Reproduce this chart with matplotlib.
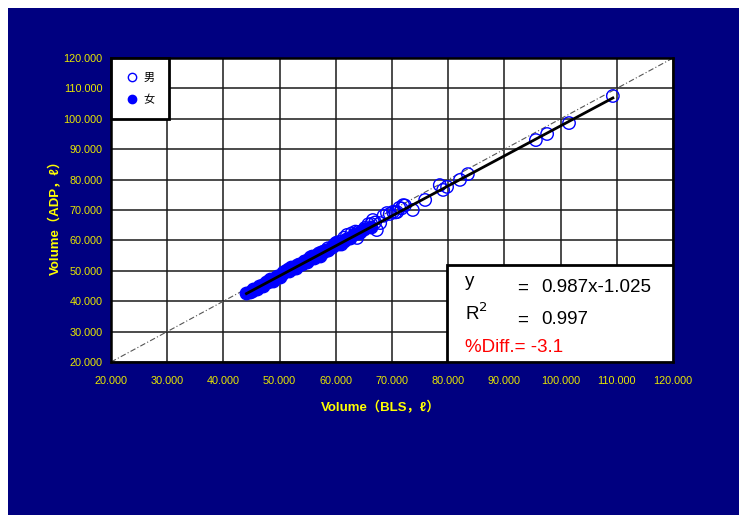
import matplotlib
matplotlib.use("Agg")
import matplotlib.pyplot as plt
from matplotlib.patches import Rectangle
from matplotlib.lines import Line2D
import numpy as np

# Body volume: BLS (x) vs ADP (y), litres
female_bls = [44.1, 44.8, 45.3, 45.9, 46.4, 47.0, 47.5, 47.9, 48.3, 48.8, 49.2, 49.6,
              50.0, 50.4, 50.9, 51.3, 51.7, 52.1, 52.6, 53.0, 53.5, 54.0, 54.4, 54.9,
              55.3, 55.8, 56.2, 56.7, 57.1, 57.6, 58.2, 58.7, 59.3, 59.9, 60.4, 61.0,
              61.8, 62.5, 63.3, 64.1, 65.0, 66.2, 45.0, 46.8, 48.0, 49.0, 50.6, 51.5,
              52.3, 53.8, 55.0, 56.0, 57.3, 58.5, 60.0, 61.4]
female_adp = [42.7, 42.9, 44.1, 44.1, 45.1, 45.0, 46.4, 46.3, 47.2, 46.8, 47.7, 48.4,
              47.9, 49.0, 50.0, 50.1, 49.8, 51.3, 50.9, 50.8, 52.2, 52.2, 53.3, 52.9,
              53.9, 54.8, 54.2, 55.3, 54.9, 56.0, 56.9, 56.8, 57.9, 59.0, 58.8, 58.9,
              60.6, 60.8, 62.2, 62.5, 63.6, 64.5, 43.5, 45.4, 46.8, 47.2, 49.5, 50.7,
              50.9, 52.2, 53.5, 54.7, 56.1, 57.0, 58.8, 59.8]

male_bls = [52.0, 53.2, 54.6, 55.5, 56.4, 57.0, 57.8, 58.6, 59.5, 60.2, 60.7, 61.5,
            62.0, 62.8, 63.5, 64.0, 63.8, 64.5, 65.2, 65.8, 66.3, 66.6, 67.0, 67.3,
            67.9, 68.5, 69.1, 69.6, 70.2, 70.6, 70.9, 71.3, 71.7, 72.0, 72.3, 73.7,
            75.9, 78.5, 79.1, 79.8, 82.1, 83.5, 95.6, 97.6, 101.5, 109.3]
male_adp = [50.8, 51.8, 53.1, 54.4, 54.8, 55.7, 56.3, 57.4, 58.0, 59.3, 59.5, 60.9,
            61.8, 62.3, 62.9, 62.8, 60.8, 62.8, 64.1, 65.3, 65.4, 66.7, 65.9, 63.4,
            65.7, 68.1, 69.0, 68.7, 69.4, 69.2, 69.3, 70.7, 70.5, 71.6, 71.5, 70.0,
            73.3, 78.2, 76.6, 77.6, 79.9, 81.8, 93.0, 95.0, 98.6, 107.5]

slope = 0.987
intercept = -1.025
r_squared = 0.997
pct_diff = -3.1

tick_values = [20, 30, 40, 50, 60, 70, 80, 90, 100, 110, 120]
tick_labels = [f"{v:.3f}" for v in tick_values]

W, H = 746, 522
fig = plt.figure(figsize=(W / 100, H / 100), dpi=100, facecolor="white")

navy = "#000080"
yellow = "#E8E800"
bg = Rectangle((8 / W, 1 - 515 / H), (739 - 8) / W, (515 - 8) / H,
               transform=fig.transFigure, facecolor=navy, edgecolor="none")
bg.set_zorder(-10)
fig.add_artist(bg)

ax = fig.add_axes([111 / W, 1 - 362 / H, (673 - 111) / W, (362 - 58) / H])
ax.set_zorder(1)
ax.set_facecolor("white")
ax.set_xlim(20, 120)
ax.set_ylim(20, 120)
ax.set_xticks(tick_values)
ax.set_yticks(tick_values)
ax.set_xticklabels(tick_labels)
ax.set_yticklabels(tick_labels)
ax.tick_params(length=0, colors=yellow, labelsize=7.8)
ax.tick_params(axis="x", pad=10)
ax.tick_params(axis="y", pad=6)
for lab in ax.get_xticklabels() + ax.get_yticklabels():
    lab.set_family("Liberation Sans")
    lab.set_color(yellow)
ax.grid(True, color="#1a1a1a", lw=1.1, zorder=1)
ax.set_axisbelow(True)
for sp in ax.spines.values():
    sp.set_color("black")
    sp.set_linewidth(1.8)

# identity line
ax.plot([20, 120], [20, 120], color="#555555", lw=0.8, ls=(0, (5, 2, 1, 2)), zorder=2)

ax.scatter(female_bls, female_adp, s=80, facecolor="#0000FF", edgecolor="#0000FF",
           lw=1, zorder=3)
ax.scatter(male_bls, male_adp, s=80, facecolor="none", edgecolor="#0000FF",
           lw=1, zorder=4)

# regression line
xr = np.array([min(female_bls + male_bls), max(female_bls + male_bls)])
ax.plot(xr, slope * xr + intercept, color="black", lw=2.0, zorder=5)

label_font = ["Liberation Sans", "Noto Sans CJK JP"]
ax.set_xlabel("Volume（BLS，ℓ）", color="#FFFF00", fontsize=9.5, fontweight="bold",
              family=label_font)
ax.set_ylabel("Volume（ADP，ℓ）", color="#FFFF00", fontsize=9.5, fontweight="bold",
              family=label_font)
ax.xaxis.set_label_coords(0.48, -0.128)
ax.yaxis.set_label_coords(-0.087, 0.485)

# legend
handles = [
    Line2D([], [], ls="none", marker="o", ms=6, mfc="white", mec="#0000FF", mew=1),
    Line2D([], [], ls="none", marker="o", ms=6, mfc="#0000FF", mec="#0000FF", mew=1),
]
leg = ax.legend(handles, ["男", "女"], loc="upper left", bbox_to_anchor=(0, 1),
                borderaxespad=0, fancybox=False, framealpha=1, handlelength=1.2,
                handletextpad=0.4, borderpad=1.3, labelspacing=1.1,
                prop={"family": "Noto Sans CJK JP", "size": 8})
leg.get_frame().set_edgecolor("black")
leg.get_frame().set_linewidth(2)
leg.set_zorder(10)

# regression statistics box
bx0 = (447 - 111) / 562
by1 = (362 - 265) / 304
ax.add_patch(Rectangle((bx0, 0), 1 - bx0, by1, transform=ax.transAxes,
                       facecolor="white", edgecolor="black", lw=2, zorder=8))
tf = dict(transform=ax.transAxes, family="Liberation Sans", fontsize=13.5, zorder=9,
          va="center")


def fx(px):
    return (px - 111) / 562


def fy(py):
    return (362 - py) / 304


ax.text(fx(465), fy(282), "y", color="black", **tf)
ax.text(fx(517), fy(288), "=", color="black", **tf)
ax.text(fx(541), fy(288), f"{slope:.3f}x{intercept:.3f}", color="black", **tf)
ax.text(fx(465), fy(313), "R$^2$", color="black", **tf)
ax.text(fx(517), fy(320), "=", color="black", **tf)
ax.text(fx(541), fy(320), f"{r_squared:.3f}", color="black", **tf)
ax.text(fx(465), fy(347), f"%Diff.= {pct_diff}", color="#FF0000", **tf)

fig.savefig("out.png", dpi=100, facecolor="white")
